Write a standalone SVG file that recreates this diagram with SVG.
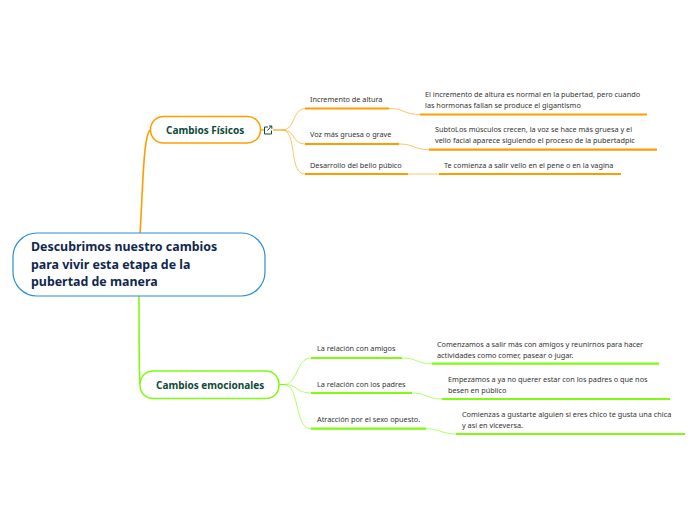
<svg xmlns="http://www.w3.org/2000/svg" width="696" height="520" viewBox="0 0 696 520">
<style>
text{font-family:"Noto Sans","Open Sans","DejaVu Sans",sans-serif}
.t{font-size:7.3px;fill:#333}
.m{font-size:10px;font-weight:700;fill:#0e4a3a}
.r{font-size:12.4px;font-weight:700;fill:#11274f}
.o{stroke:#ff9d00;fill:none}
.g{stroke:#80fa10;fill:none}
.b{stroke-width:2.2}
.c{stroke-width:1;opacity:.6}
</style>
<rect width="696" height="520" fill="#fff"/>
<g id="connectors">
<path class="o" stroke-width="1.600" d="M140 233C143 190 143 138 150 130"/>
<path class="g" stroke-width="1.600" d="M139 296C139 330 139 375 140 384"/>
<path class="o" stroke-width="1.2" d="M260 130H264"/>
<path class="o" stroke-width="1.2" d="M273 130H282"/>
<path class="o c" d="M282 130C296 130 292 108.500 305 108.500"/>
<path class="o c" d="M282 130C296 130 292 144 305 144"/>
<path class="o c" d="M282 130C298 130 288 174 305 174"/>
<path class="o c" d="M389 108.500C404 108.500 404 114.500 420 114.500"/>
<path class="o c" d="M399 144C414 144 414 149.700 429 149.700"/>
<path class="o c" d="M408 174H439"/>
<path class="g" stroke-width="1.200" d="M279 384.500H284"/>
<path class="g c" d="M284 384.500C298 384.500 296 358 311 358"/>
<path class="g c" d="M284 384.500C298 384.500 296 393 311 393"/>
<path class="g c" d="M284 384.500C300 384.500 294 428.700 311 428.700"/>
<path class="g c" d="M402 358C417 358 417 363.700 432 363.700"/>
<path class="g c" d="M412 393C427 393 427 399 442 399"/>
<path class="g c" d="M426 428.700C441 428.700 441 434 456 434"/>
<g class="b">
<path class="o" d="M305 108.500H389M305 144H399M305 174H408M420 114.500H647M429 149.700H657M439 174H621"/>
<path class="g" d="M311 358H402M311 393H412M311 428.700H426M432 363.700H659M442 399H670M456 434H685"/>
</g>
</g>
<g id="root"><rect x="13" y="233" width="252" height="63" rx="24" fill="#fff" stroke="#2a8fd0" stroke-width="1.200"/>
<text class="r" x="31" y="251">Descubrimos nuestro cambios</text><text class="r" x="31" y="269">para vivir esta etapa de la</text><text class="r" x="31" y="286">pubertad de manera</text></g>
<g id="cambios-fisicos"><rect x="150.500" y="116.500" width="110" height="26.500" rx="13" fill="#fff" stroke="#ff9d00" stroke-width="1.500"/>
<text class="m" x="166" y="134">Cambios Físicos</text>
<path d="M268 127H264.500V134H271.500V130.500M267.500 130.500L271.500 126M269 126H271.800V128.800" fill="none" stroke="#0e4a3a" stroke-width="1"/></g>
<g id="cambios-emocionales"><rect x="140" y="371" width="139" height="27.500" rx="13" fill="#fff" stroke="#80fa10" stroke-width="1.500"/>
<text class="m" x="156" y="389">Cambios emocionales</text></g>
<g id="n1"><text class="t" x="310" y="102">Incremento de altura</text></g>
<g id="n2"><text class="t" x="310" y="137">Voz más gruesa o grave</text></g>
<g id="n3"><text class="t" x="310" y="168">Desarrollo del bello púbico</text></g>
<g id="n4"><text class="t" x="425" y="97">El incremento de altura es normal en la pubertad, pero cuando</text><text class="t" x="425" y="108">las hormonas fallan se produce el gigantismo</text></g>
<g id="n5"><text class="t" x="435" y="132">SubtoLos músculos crecen, la voz se hace más gruesa y el</text><text class="t" x="435" y="143">vello facial aparece siguiendo el proceso de la pubertadpic</text></g>
<g id="n6"><text class="t" x="444" y="168">Te comienza a salir vello en el pene o en la vagina</text></g>
<g id="n7"><text class="t" x="317" y="351">La relación con amigos</text></g>
<g id="n8"><text class="t" x="317" y="387">La relación con los padres</text></g>
<g id="n9"><text class="t" x="317" y="422">Atracción por el sexo opuesto.</text></g>
<g id="n10"><text class="t" x="437" y="347">Comenzamos a salir más con amigos y reunirnos para hacer</text><text class="t" x="437" y="358">actividades como comer, pasear o jugar.</text></g>
<g id="n11"><text class="t" x="448" y="382">Empezamos a ya no querer estar con los padres o que nos</text><text class="t" x="448" y="393">besen en público</text></g>
<g id="n12"><text class="t" x="462" y="417">Comienzas a gustarte alguien si eres chico te gusta una chica</text><text class="t" x="462" y="428">y así en viceversa.</text></g>
</svg>
